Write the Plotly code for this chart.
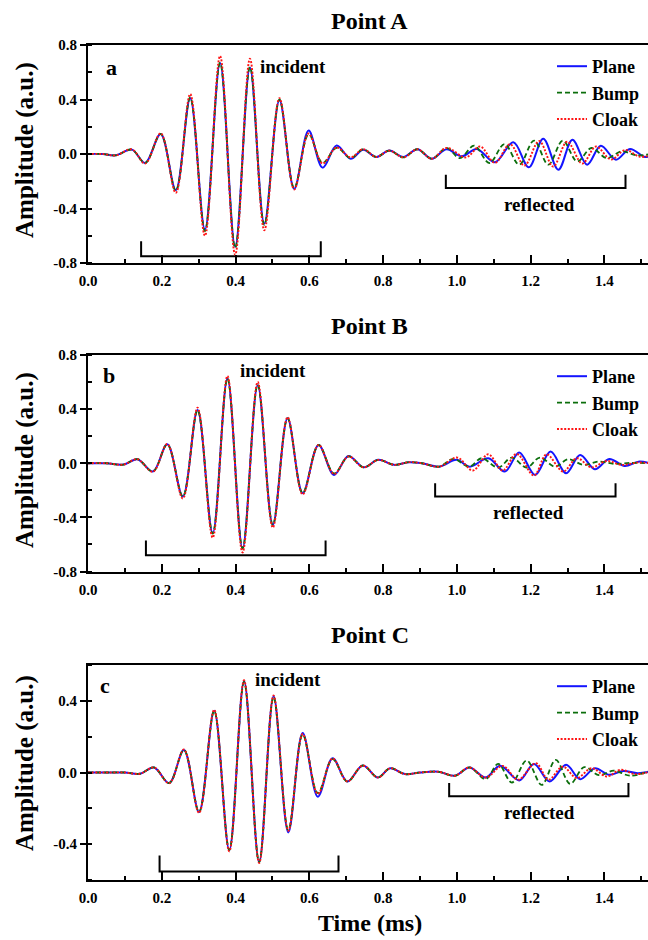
import plotly.graph_objects as go

# ---------------- DATA ----------------
# Panel A (Point A) — incident part, shared time samples
A_inc_t = [0.0, 0.04, 0.075, 0.119, 0.155, 0.197, 0.238, 0.277, 0.317, 0.358, 0.399, 0.439, 0.478,
           0.519, 0.559, 0.598, 0.636, 0.674, 0.712, 0.746, 0.781, 0.817, 0.855, 0.893, 0.932, 0.972]
A_inc_plane = [0.0, 0.0, -0.01, 0.032, -0.066, 0.147, -0.265, 0.41, -0.555, 0.667, -0.68, 0.635, -0.51,
               0.395, -0.255, 0.172, -0.10, 0.062, -0.035, 0.032, -0.022, 0.025, -0.022, 0.035, -0.035, 0.035]
A_inc_bump = [0.0, 0.0, -0.01, 0.032, -0.066, 0.147, -0.27, 0.415, -0.565, 0.67, -0.69, 0.64, -0.52,
              0.40, -0.25, 0.145, -0.065, 0.045, -0.03, 0.035, -0.022, 0.025, -0.025, 0.035, -0.035, 0.045]
A_inc_cloak = [0.0, 0.0, -0.01, 0.034, -0.07, 0.152, -0.285, 0.44, -0.60, 0.72, -0.74, 0.70, -0.56,
               0.41, -0.26, 0.15, -0.07, 0.048, -0.025, 0.035, -0.022, 0.025, -0.025, 0.035, -0.035, 0.045]
# Panel A — reflected part
A_ref_plane_t = [1.013, 1.054, 1.103, 1.153, 1.195, 1.234, 1.275, 1.313, 1.353, 1.390, 1.431, 1.469, 1.510, 1.525]
A_ref_plane_v = [-0.017, 0.037, -0.061, 0.086, -0.098, 0.112, -0.115, 0.105, -0.078, 0.061, -0.042, 0.037, -0.022, -0.015]
A_ref_bump_t = [1.008, 1.047, 1.088, 1.129, 1.169, 1.209, 1.248, 1.287, 1.326, 1.365, 1.406, 1.447, 1.487, 1.525]
A_ref_bump_v = [-0.03, 0.061, -0.066, 0.073, -0.078, 0.098, -0.078, 0.098, -0.054, 0.044, -0.03, 0.02, -0.01, 0.0]
A_ref_cloak_t = [1.024, 1.063, 1.103, 1.144, 1.183, 1.223, 1.261, 1.299, 1.340, 1.377, 1.418, 1.456, 1.496, 1.525]
A_ref_cloak_v = [-0.025, 0.055, -0.065, 0.072, -0.085, 0.095, -0.092, 0.09, -0.07, 0.055, -0.04, 0.03, -0.02, -0.01]

# Panel B (Point B)
B_inc_t = [0.0, 0.05, 0.096, 0.134, 0.176, 0.215, 0.257, 0.297, 0.338, 0.378, 0.419, 0.460, 0.501,
           0.541, 0.582, 0.625, 0.667, 0.706, 0.747, 0.787, 0.830, 0.870, 0.905, 0.952]
B_inc_plane = [0.0, 0.0, -0.01, 0.03, -0.061, 0.14, -0.246, 0.393, -0.516, 0.627, -0.627, 0.577, -0.455,
               0.332, -0.221, 0.135, -0.086, 0.054, -0.03, 0.025, -0.012, 0.008, 0.0, -0.025]
B_inc_bump = [0.0, 0.0, -0.01, 0.03, -0.061, 0.14, -0.246, 0.393, -0.52, 0.627, -0.63, 0.58, -0.455,
              0.332, -0.221, 0.135, -0.075, 0.05, -0.03, 0.025, -0.012, 0.008, 0.0, -0.025]
B_inc_cloak = [0.0, 0.0, -0.01, 0.03, -0.063, 0.142, -0.26, 0.41, -0.55, 0.645, -0.66, 0.60, -0.475,
               0.34, -0.23, 0.135, -0.08, 0.05, -0.03, 0.025, -0.012, 0.008, 0.0, -0.025]
B_ref_plane_t = [0.999, 1.035, 1.085, 1.130, 1.169, 1.212, 1.254, 1.296, 1.334, 1.374, 1.413, 1.455, 1.492, 1.525]
B_ref_plane_v = [0.025, -0.025, 0.037, -0.061, 0.079, -0.086, 0.086, -0.074, 0.061, -0.044, 0.032, -0.02, 0.012, 0.0]
B_ref_bump_t = [0.990, 1.034, 1.067, 1.112, 1.149, 1.189, 1.225, 1.266, 1.302, 1.343, 1.384, 1.430, 1.470, 1.525]
B_ref_bump_v = [0.032, -0.025, 0.037, -0.032, 0.042, -0.032, 0.042, -0.025, 0.03, -0.012, 0.012, -0.005, 0.003, 0.0]
B_ref_cloak_t = [1.001, 1.043, 1.085, 1.124, 1.162, 1.209, 1.243, 1.288, 1.325, 1.365, 1.406, 1.447, 1.490, 1.525]
B_ref_cloak_v = [0.042, -0.054, 0.066, -0.054, 0.069, -0.091, 0.066, -0.061, 0.037, -0.03, 0.017, -0.012, 0.005, 0.0]

# Panel C (Point C)
C_inc_t = [0.0, 0.06, 0.10, 0.141, 0.179, 0.220, 0.260, 0.301, 0.342, 0.383, 0.423, 0.464, 0.503, 0.543,
           0.582, 0.623, 0.663, 0.703, 0.745, 0.786, 0.819, 0.859, 0.900, 0.950, 0.995, 1.034, 1.078]
C_inc_plane = [0.0, 0.0, 0.0, -0.007, 0.028, -0.059, 0.126, -0.22, 0.344, -0.433, 0.511, -0.50, 0.426, -0.335,
               0.22, -0.135, 0.08, -0.05, 0.039, -0.028, 0.024, -0.009, 0.0, 0.004, -0.018, 0.028, -0.028]
C_inc_bump = [0.0, 0.0, 0.0, -0.007, 0.028, -0.059, 0.126, -0.22, 0.344, -0.433, 0.505, -0.50, 0.42, -0.32,
              0.212, -0.115, 0.075, -0.05, 0.039, -0.028, 0.024, -0.009, 0.0, 0.004, -0.018, 0.028, -0.037]
C_inc_cloak = [0.0, 0.0, 0.0, -0.007, 0.028, -0.06, 0.128, -0.225, 0.35, -0.44, 0.515, -0.505, 0.43, -0.325,
               0.215, -0.12, 0.078, -0.05, 0.039, -0.028, 0.024, -0.009, 0.0, 0.004, -0.018, 0.028, -0.028]
C_ref_plane_t = [1.117, 1.169, 1.209, 1.251, 1.296, 1.334, 1.374, 1.413, 1.451, 1.490, 1.525]
C_ref_plane_v = [0.037, -0.044, 0.048, -0.05, 0.043, -0.037, 0.024, -0.013, 0.009, -0.004, 0.005]
C_ref_bump_t = [1.112, 1.149, 1.189, 1.230, 1.268, 1.307, 1.345, 1.385, 1.425, 1.470, 1.525]
C_ref_bump_v = [0.048, -0.056, 0.067, -0.069, 0.07, -0.063, 0.03, -0.015, 0.01, -0.018, 0.01]
C_ref_cloak_t = [1.124, 1.166, 1.214, 1.248, 1.287, 1.325, 1.365, 1.406, 1.444, 1.483, 1.525]
C_ref_cloak_v = [0.037, -0.04, 0.052, -0.04, 0.033, -0.031, 0.024, -0.022, 0.015, -0.009, 0.005]

series_names = ["Plane", "Bump", "Cloak"]
panel_titles = ["Point A", "Point B", "Point C"]
panel_letters = ["a", "b", "c"]

# brackets: [t_start, t_end, top, bottom]
A_brackets = [[0.144, 0.631, -0.641, -0.751], [0.970, 1.457, -0.152, -0.250]]
B_brackets = [[0.157, 0.644, -0.571, -0.680], [0.941, 1.430, -0.147, -0.246]]
C_brackets = [[0.194, 0.679, -0.463, -0.553], [0.979, 1.465, -0.059, -0.133]]

x_tickvals = [0.0, 0.2, 0.4, 0.6, 0.8, 1.0, 1.2, 1.4]
x_ticktext = ["0.0", "0.2", "0.4", "0.6", "0.8", "1.0", "1.2", "1.4"]
yAB_tickvals = [-0.8, -0.4, 0.0, 0.4, 0.8]
yAB_ticktext = ["-0.8", "-0.4", "0.0", "0.4", "0.8"]
yC_tickvals = [-0.4, 0.0, 0.4]
yC_ticktext = ["-0.4", "0.0", "0.4"]

# ---------------- FIGURE ----------------
FONT = "Liberation Serif, Times New Roman, serif"
W, H = 648, 940
ML, MR, MT, MB = 88, 0, 45, 60
PW, PH = W - ML - MR, H - MT - MB


def py(pix):  # pixel y -> paper y
    return (H - MB - pix) / PH


def px(pix):  # pixel x -> paper x
    return (pix - ML) / PW


colors = ["#1414ff", "#0b6e0b", "#ff1414"]
dashes = ["solid", "5px,3px", "2px,1.6px"]
widths = [2.0, 1.8, 1.9]

panels = [
    (A_inc_t, [A_inc_plane, A_inc_bump, A_inc_cloak],
     [(A_ref_plane_t, A_ref_plane_v), (A_ref_bump_t, A_ref_bump_v), (A_ref_cloak_t, A_ref_cloak_v)], A_brackets),
    (B_inc_t, [B_inc_plane, B_inc_bump, B_inc_cloak],
     [(B_ref_plane_t, B_ref_plane_v), (B_ref_bump_t, B_ref_bump_v), (B_ref_cloak_t, B_ref_cloak_v)], B_brackets),
    (C_inc_t, [C_inc_plane, C_inc_bump, C_inc_cloak],
     [(C_ref_plane_t, C_ref_plane_v), (C_ref_bump_t, C_ref_bump_v), (C_ref_cloak_t, C_ref_cloak_v)], C_brackets),
]

fig = go.Figure()
legend_ids = ["legend", "legend2", "legend3"]
for p, (inc_t, inc_vals, refs, brackets) in enumerate(panels):
    xa = "x" if p == 0 else f"x{p+1}"
    ya = "y" if p == 0 else f"y{p+1}"
    for b in brackets:
        fig.add_trace(go.Scatter(x=[b[0], b[0], b[1], b[1]], y=[b[2], b[3], b[3], b[2]],
                                 mode="lines", line=dict(color="black", width=2),
                                 showlegend=False, hoverinfo="skip", xaxis=xa, yaxis=ya))
    for s in range(3):
        t = list(inc_t) + list(refs[s][0])
        v = list(inc_vals[s]) + list(refs[s][1])
        fig.add_trace(go.Scatter(
            x=t, y=v, mode="lines", name=series_names[s],
            line=dict(color=colors[s], width=widths[s], dash=dashes[s], shape="spline", smoothing=1.0),
            xaxis=xa, yaxis=ya, legend=legend_ids[p]))

# domains (pixel based)
ydomains = [(py(263), py(45)), (py(571.5), py(355)), (py(880), py(665))]
axis_common = dict(showgrid=False, zeroline=False, linecolor="black", linewidth=2, automargin=False,
                   tickfont=dict(family=FONT, size=15, color="black", weight="bold"))
layout = dict(width=W, height=H, margin=dict(l=ML, r=MR, t=MT, b=MB, autoexpand=False),
              paper_bgcolor="white", plot_bgcolor="white", showlegend=True)
for p in range(3):
    xk = "xaxis" if p == 0 else f"xaxis{p+1}"
    yk = "yaxis" if p == 0 else f"yaxis{p+1}"
    ya = "y" if p == 0 else f"y{p+1}"
    xa = "x" if p == 0 else f"x{p+1}"
    layout[xk] = dict(axis_common, range=[0, 1.518], domain=[0, 1], anchor=ya, mirror=True,
                      tickmode="array", tickvals=x_tickvals, ticktext=x_ticktext,
                      ticks="inside", ticklen=8, tickwidth=1.5, tickcolor="black",
                      minor=dict(dtick=0.1, tick0=0, ticks="inside", ticklen=4, tickwidth=1.5, tickcolor="black"),
                      ticklabelstandoff=3)
    if p < 2:
        yr, tv, tt = [-0.8, 0.8], yAB_tickvals, yAB_ticktext
    else:
        yr, tv, tt = [-0.6, 0.6], yC_tickvals, yC_ticktext
    layout[yk] = dict(axis_common, range=yr, domain=list(ydomains[p]), anchor=xa, mirror=False,
                      tickmode="array", tickvals=tv, ticktext=tt,
                      ticks="outside", ticklen=6, tickwidth=1.5, tickcolor="black",
                      minor=dict(dtick=0.2, tick0=0, ticks="inside", ticklen=4, tickwidth=1.5, tickcolor="black"))

legend_tops = [48, 358, 668]
for p in range(3):
    layout[legend_ids[p]] = dict(x=552 / W, y=1 - legend_tops[p] / H, xref="container", yref="container",
                                 xanchor="left", yanchor="top",
                                 bgcolor="rgba(0,0,0,0)", borderwidth=0, tracegroupgap=0,
                                 font=dict(family=FONT, size=18, color="black", weight="bold"))

annotations = []
title_y = [20.7, 326, 635]
ytitle_y = [150, 460, 763]
letter_pos = [(0.063, 0.637), (0.056, 0.651), (0.046, 0.483)]
incident_pos = [(0.557, 0.643), (0.502, 0.688), (0.542, 0.52)]
reflected_pos = [(1.224, -0.372), (1.195, -0.366), (1.224, -0.226)]
C_ = dict(showarrow=False, xanchor="center", yanchor="middle")
for p in range(3):
    xa = "x" if p == 0 else f"x{p+1}"
    ya = "y" if p == 0 else f"y{p+1}"
    annotations.append(dict(C_, text=f"<b>{panel_titles[p]}</b>", xref="paper", yref="paper",
                            x=px(369.5), y=py(title_y[p]),
                            font=dict(family=FONT, size=24, color="black")))
    annotations.append(dict(C_, text="<b>Amplitude (a.u.)</b>", xref="paper", yref="paper", textangle=-90,
                            x=px(25), y=py(ytitle_y[p]),
                            font=dict(family=FONT, size=25, color="black")))
    annotations.append(dict(C_, text=f"<b>{panel_letters[p]}</b>", xref=xa, yref=ya,
                            x=letter_pos[p][0], y=letter_pos[p][1],
                            font=dict(family=FONT, size=22, color="black")))
    annotations.append(dict(C_, text="<b>incident</b>", xref=xa, yref=ya,
                            x=incident_pos[p][0], y=incident_pos[p][1],
                            font=dict(family=FONT, size=19, color="black")))
    annotations.append(dict(C_, text="<b>reflected</b>", xref=xa, yref=ya,
                            x=reflected_pos[p][0], y=reflected_pos[p][1],
                            font=dict(family=FONT, size=19, color="black")))
annotations.append(dict(C_, text="<b>Time (ms)</b>", xref="paper", yref="paper",
                        x=px(370), y=py(923),
                        font=dict(family=FONT, size=24, color="black")))
layout["annotations"] = annotations

fig.update_layout(**layout)
fig.write_html("out.html", config={"displayModeBar": False},
               post_script="document.body.style.margin='0';document.body.style.overflow='hidden';")
